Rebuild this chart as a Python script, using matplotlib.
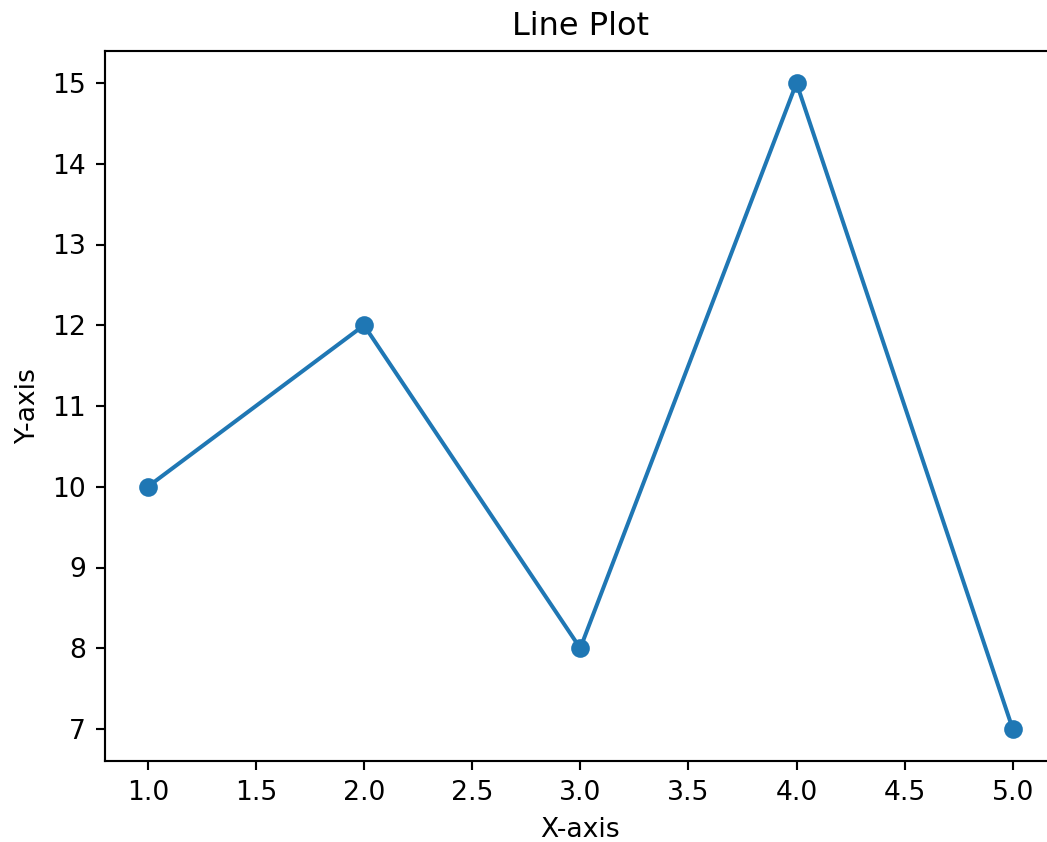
import matplotlib
matplotlib.use('Agg')
import matplotlib.pyplot as plt

x_values = [1, 2, 3, 4, 5]
y_values = [10, 12, 8, 15, 7]

dpi = 192
fig = plt.figure(figsize=(1047 / dpi, 842 / dpi), dpi=dpi)
ax = fig.add_axes([104.5 / 1047, (842 - 761.3) / 842, 951.5 / 1047, 710.6 / 842])

ax.plot(x_values, y_values, marker='o')
ax.set_title("Line Plot")
ax.set_xlabel("X-axis")
ax.set_ylabel("Y-axis")

fig.savefig('out.png', dpi=dpi)
